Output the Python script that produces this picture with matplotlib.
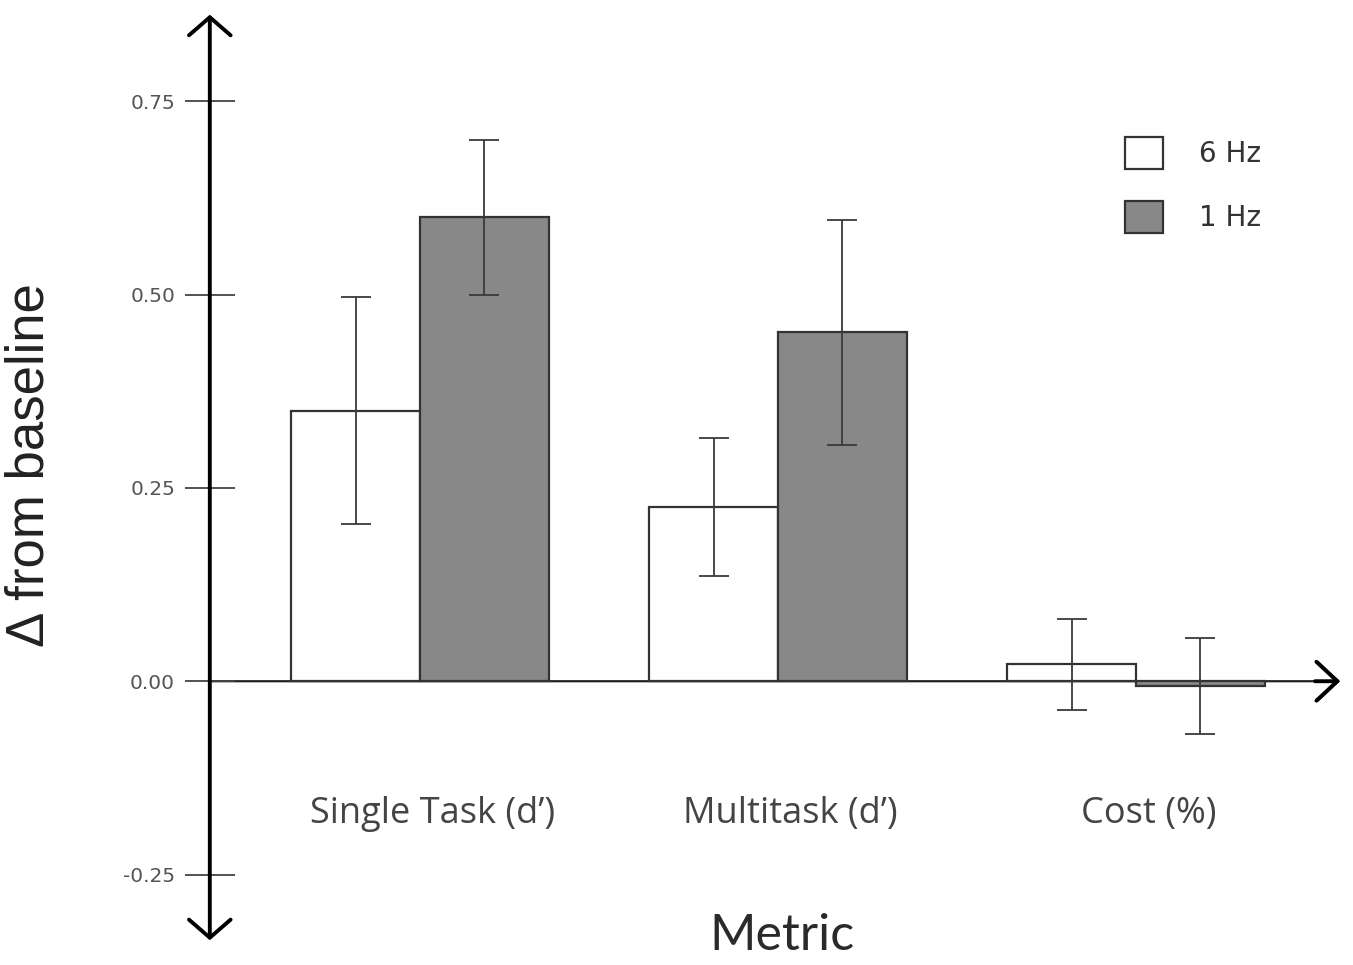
import matplotlib
matplotlib.use('Agg')
import matplotlib.pyplot as plt
import numpy as np

# Define the data
metrics = ['Single Task (d\u2019)', 'Multitask (d\u2019)', 'Cost (%)']
series = ['6 Hz', '1 Hz']
hz6_vals = [0.35, 0.225, 0.022]
hz6_err = [0.147, 0.089, 0.059]
hz1_vals = [0.60, 0.451, -0.006]
hz1_err = [0.10, 0.145, 0.062]
yticks = [-0.25, 0.0, 0.25, 0.50, 0.75]

fig = plt.figure(figsize=(13.53, 9.65), dpi=100)
ax = fig.add_axes([0, 0, 1, 1])
ax.set_xlim(-1.173, 2.606)
ax.set_ylim(-0.367, 0.881)

x = np.arange(len(metrics))
w = 0.36
edge = '#333333'
err_kw = dict(ecolor='#3a3a3a', elinewidth=1.3, capsize=10.5, capthick=1.3)

ax.bar(x - w / 2, hz6_vals, w, yerr=hz6_err, color='white', edgecolor=edge,
       linewidth=1.6, label=series[0], error_kw=err_kw, zorder=2)
ax.bar(x + w / 2, hz1_vals, w, yerr=hz1_err, color='#888888', edgecolor=edge,
       linewidth=1.6, label=series[1], error_kw=err_kw, zorder=2)

# axes drawn as arrows
yx = -0.587
for s in ['top', 'right', 'bottom', 'left']:
    ax.spines[s].set_visible(False)
ax.spines['left'].set_position(('data', yx))
ax.annotate('', xy=(yx, 0.862), xytext=(yx, -0.335),
            arrowprops=dict(arrowstyle='<->, head_length=1.3, head_width=1.5',
                            color='black', lw=2.8, mutation_scale=10,
                            shrinkA=0, shrinkB=0), zorder=3)
ax.annotate('', xy=(2.57, 0), xytext=(yx, 0),
            arrowprops=dict(arrowstyle='->, head_length=1.5, head_width=1.4',
                            color='#222222', lw=1.6, mutation_scale=10,
                            shrinkA=0, shrinkB=0), zorder=1)
ax.annotate('', xy=(2.57, 0), xytext=(2.5, 0),
            arrowprops=dict(arrowstyle='->, head_length=1.5, head_width=1.4',
                            color='black', lw=2.8, mutation_scale=10,
                            shrinkA=0, shrinkB=0), zorder=1)

ax.set_yticks(yticks)
ax.set_yticklabels(['%.2f' % t if t >= 0 else '-%.2f' % -t for t in yticks])
ax.tick_params(axis='y', direction='inout', length=36, width=1.3, color='#444444',
               labelsize=14.5, labelcolor='#555555', pad=7)
for lab in ax.get_yticklabels():
    lab.set_family('DejaVu Sans')

ax.set_xticks(x)
ax.set_xticklabels(metrics)
ax.tick_params(axis='x', length=0, pad=0)
ax.xaxis.set_ticks_position('none')
for lab in ax.get_xticklabels():
    lab.set_visible(False)
for xi, name in zip(x, metrics):
    ax.text(xi + 0.035, -0.172, name, ha='center', va='center', fontsize=26,
            color='#444444', family='Open Sans')

ax.text(1.011, -0.33, 'Metric', ha='center', va='center', fontsize=36,
        color='#2a2a2a', family='Lato')
ax.text(-1.09, 0.279, '\u0394 from baseline', ha='center', va='center',
        rotation=90, fontsize=38, color='#222222', family='Liberation Sans')

ax.legend(loc='upper left', bbox_to_anchor=(1100 / 1353, 1 - 112 / 965),
          frameon=False, fontsize=20, handlelength=1.35, handleheight=1.4,
          labelspacing=1.15, handletextpad=1.3, labelcolor='#333333')

plt.savefig('out.png', dpi=100)
